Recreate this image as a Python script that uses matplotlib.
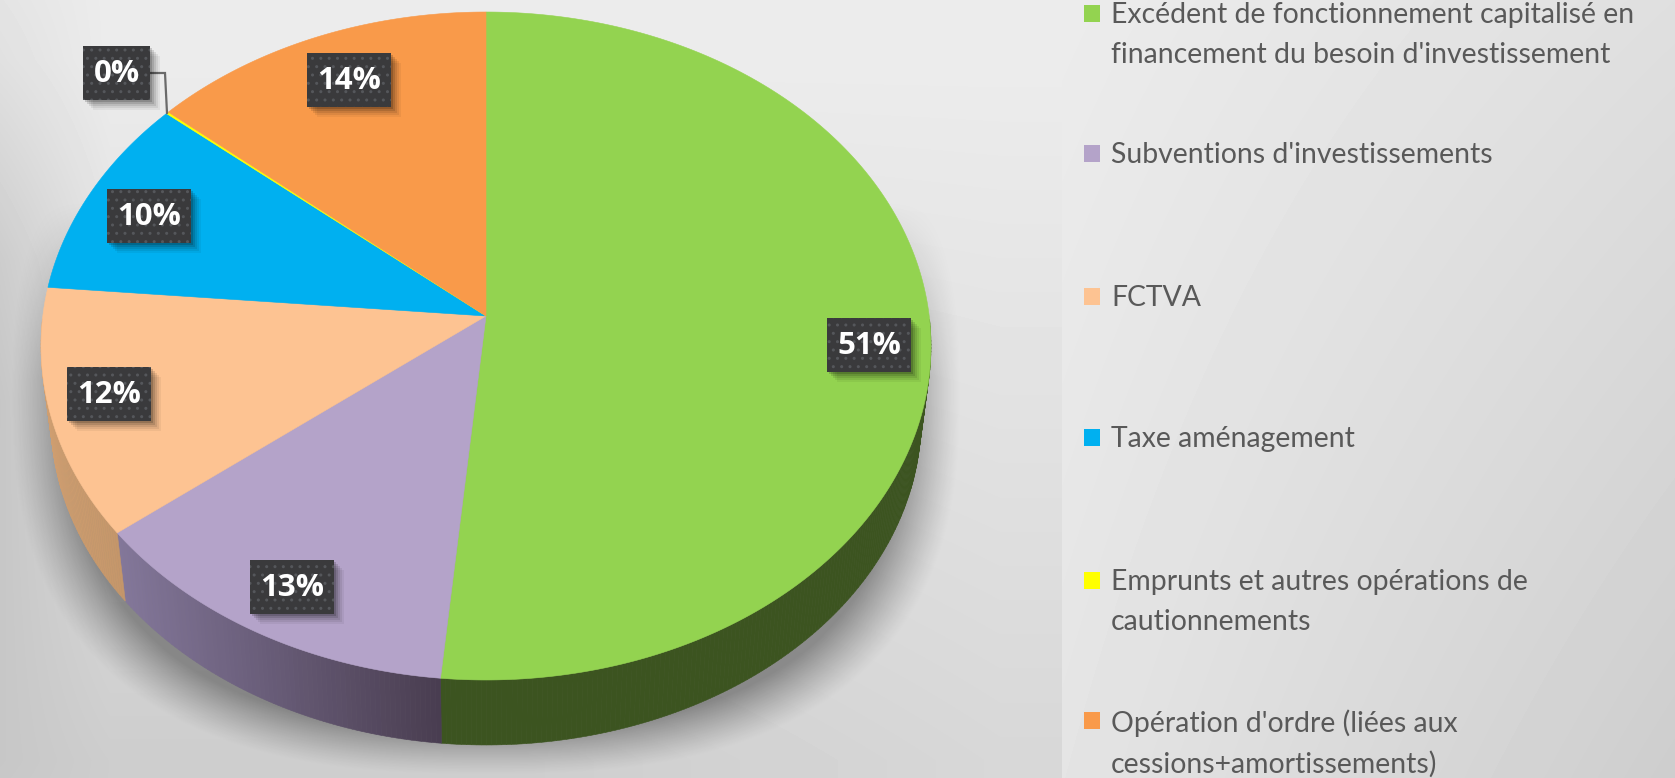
import numpy as np
import matplotlib
matplotlib.use('Agg')
import matplotlib.pyplot as plt
from matplotlib.patches import Rectangle
from matplotlib.colors import to_rgb

# Data
categories = ["Excédent de fonctionnement capitalisé en\nfinancement du besoin d'investissement",
              "Subventions d'investissements",
              "FCTVA",
              "Taxe aménagement",
              "Emprunts et autres opérations de\ncautionnements",
              "Opération d'ordre (liées aux\ncessions+amortissements)"]
values = [51.49, 12.9, 12.0, 9.8, 0.1, 13.71]

# Styles
colors = ['#93D350', '#B4A3C9', '#FDC392', '#00B0F0', '#FFFF00', '#F99A4A']
side_left = ['#3C5420', '#83779A', '#CF9E70', '#00B0F0', '#FFFF00', '#F99A4A']
side_right = ['#3C5420', '#493D50', '#C4966A', '#00B0F0', '#FFFF00', '#F99A4A']
label_boxes = [(827, 318), (250, 560), (67, 367), (107, 189), (83, 46), (307, 53)]
legend_y = [13, 153, 296, 437, 580, 720]

W, H = 1675, 778
plt.rcParams['font.family'] = ['Lato', 'DejaVu Sans']

fig = plt.figure(figsize=(W / 100, H / 100), dpi=100)
ax = fig.add_axes([0, 0, 1, 1])
ax.set_xlim(0, W)
ax.set_ylim(H, 0)
ax.axis('off')

# Fond degrade
X, Y = np.meshgrid(np.arange(W) + 0.5, np.arange(H) + 0.5)
tx = (X - 1062) / 613
ty = Y / 778
c = 0.12 - 0.04 * np.clip((X - 500) / 500, 0, 1)
left_panel = 0.925 - c * np.clip((Y - 60) / 700, 0, 1) \
    - 0.09 * np.clip((110 - X) / 110, 0, 1) * np.clip(0.35 + Y / 400, 0, 1) * np.clip((900 - Y) / 500, 0, 1)
right_panel = 0.925 - 0.05 * tx - 0.03 * ty - 0.04 * tx * ty
bg = np.where(X < 1062, left_panel, right_panel)
ax.imshow(bg, cmap='gray', vmin=0, vmax=1, extent=(0, W, H, 0), aspect='auto', zorder=0)

# Ombre sous le camembert
r = (np.abs((X - 486) / 475) ** 2.6 + np.abs((Y - 390) / 385) ** 2.6) ** (1 / 2.6)
alpha = 0.36 * np.clip((1 - r) / 0.12, 0, 1) ** 1.2 * np.clip((Y - 200) / 180, 0, 1)
shadow = np.zeros((H, W, 4))
shadow[..., 3] = alpha
ax.imshow(shadow, extent=(0, W, H, 0), aspect='auto', zorder=1)
ax.set_xlim(0, W)
ax.set_ylim(H, 0)


# Projection perspective du disque
def rim(theta, apex_y, scale=1.0):
    u = np.sin(theta)
    v = np.cos(theta)
    w = 1 + 0.0898 * v
    return 486 + scale * 443.2 * u / w, apex_y - scale * 331.3 * v / w


bounds = np.radians(np.concatenate([[0], np.cumsum(values)]) * 3.6)

# Flancs
for i in range(len(values)):
    th = np.linspace(bounds[i], bounds[i + 1], max(int(values[i] * 6), 3))
    xt, yt = rim(th, 316)
    xb, yb = rim(th, 389, 0.978)
    lo, hi = to_rgb(side_left[i]), to_rgb(side_right[i])
    xmin, xmax = min(xt), max(xt)
    for j in range(len(th) - 1):
        if np.cos(th[j]) > 0 or np.cos(th[j + 1]) > 0:
            continue
        f = ((xt[j] + xt[j + 1]) / 2 - xmin) / max(xmax - xmin, 1)
        col = tuple(lo[k] + (hi[k] - lo[k]) * f for k in range(3))
        ax.fill([xt[j], xt[j + 1], xb[j + 1], xb[j]], [yt[j], yt[j + 1], yb[j + 1], yb[j]],
                color=col, lw=0.4, zorder=2)

# Dessus
for i in range(len(values)):
    th = np.linspace(bounds[i], bounds[i + 1], max(int(values[i] * 12), 3))
    xt, yt = rim(th, 316)
    ax.fill(np.r_[486, xt], np.r_[316, yt], color=colors[i], lw=0.4, zorder=3)

# Trait de rappel du 0%
ax.plot([150, 165, 167], [73, 73, 113], color='#6A6A6A', lw=1.6, zorder=4, solid_joinstyle='miter')

# Etiquettes
for i in range(len(values)):
    bx, by = label_boxes[i]
    bw = 67 if values[i] < 1 else 84
    bh = 54
    for d, a in [(11, 0.05), (9, 0.07), (7, 0.09), (5, 0.12), (3, 0.16)]:
        ax.add_patch(Rectangle((bx + d - 1, by + d - 1), bw, bh, fc='black', ec='none', alpha=a, zorder=5))
    ax.add_patch(Rectangle((bx, by), bw, bh, fc='#3A3A3C', ec='none', zorder=6))
    ax.add_patch(Rectangle((bx, by), bw, bh, fc='none', ec='#55575B', hatch='..', lw=0, zorder=6))
    ax.text(bx + bw / 2, by + bh / 2 + 1, f'{values[i]:.0f}%', color='white', fontsize=22.5,
            family=['Open Sans', 'DejaVu Sans'], fontweight='bold', ha='center', va='center', zorder=7)

# Legende
for i in range(len(categories)):
    ax.add_patch(Rectangle((1084, legend_y[i] - 8), 16, 17, fc=colors[i], ec='none', zorder=3))
    ax.text(1111, legend_y[i] - 11, categories[i], color='#595959', fontsize=20.4, ha='left', va='top',
            linespacing=1.65, zorder=3)

fig.savefig('out.png', dpi=100)
